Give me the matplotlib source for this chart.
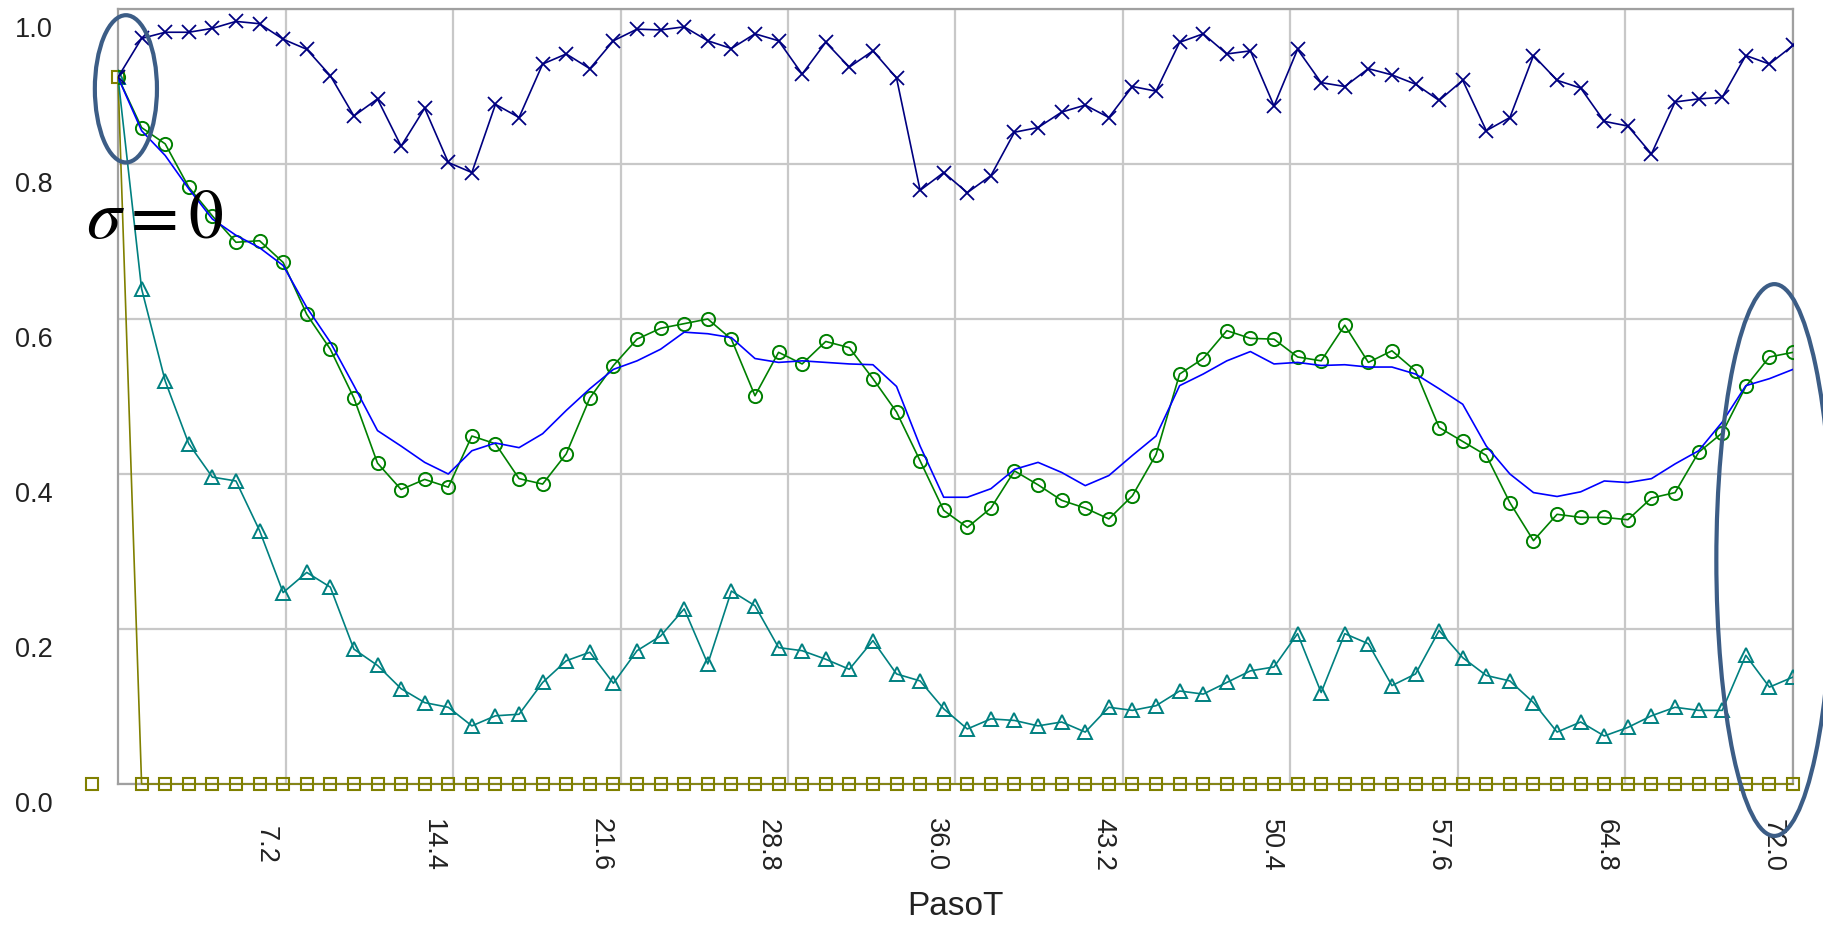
import numpy as np
import matplotlib
matplotlib.use("Agg")
import matplotlib.pyplot as plt
import matplotlib.transforms as mtransforms
from matplotlib.patches import Ellipse

plt.rcParams["font.family"] = ["Liberation Sans", "DejaVu Sans"]
plt.rcParams["mathtext.fontset"] = "stix"

# 72 time steps spread over the PasoT range 0..72
paso = np.linspace(0, 72, 72)

navy_x = [0.912, 0.962, 0.970, 0.970, 0.975, 0.984, 0.981, 0.961, 0.948, 0.914,
          0.862, 0.884, 0.823, 0.872, 0.802, 0.789, 0.877, 0.860, 0.929, 0.942,
          0.923, 0.959, 0.974, 0.973, 0.977, 0.959, 0.949, 0.968, 0.959, 0.916,
          0.957, 0.925, 0.946, 0.911, 0.766, 0.789, 0.763, 0.785, 0.841, 0.847,
          0.867, 0.876, 0.860, 0.900, 0.894, 0.957, 0.968, 0.942, 0.946, 0.875,
          0.948, 0.905, 0.900, 0.923, 0.915, 0.903, 0.882, 0.908, 0.843, 0.860,
          0.940, 0.908, 0.898, 0.855, 0.849, 0.813, 0.880, 0.884, 0.886, 0.940,
          0.929, 0.953]

green_o = [0.912, 0.847, 0.826, 0.770, 0.733, 0.699, 0.701, 0.673, 0.606, 0.561,
           0.498, 0.414, 0.380, 0.393, 0.383, 0.449, 0.439, 0.394, 0.387, 0.426,
           0.498, 0.540, 0.574, 0.588, 0.594, 0.600, 0.574, 0.501, 0.557, 0.542,
           0.571, 0.563, 0.523, 0.480, 0.417, 0.353, 0.331, 0.356, 0.404, 0.386,
           0.366, 0.356, 0.342, 0.372, 0.425, 0.529, 0.549, 0.585, 0.575, 0.574,
           0.551, 0.546, 0.592, 0.544, 0.559, 0.533, 0.460, 0.442, 0.424, 0.363,
           0.314, 0.348, 0.344, 0.344, 0.341, 0.369, 0.376, 0.428, 0.453, 0.513,
           0.551, 0.557]

blue_line = [0.912, 0.843, 0.811, 0.768, 0.729, 0.708, 0.692, 0.669, 0.615, 0.570,
             0.514, 0.456, 0.436, 0.415, 0.400, 0.430, 0.440, 0.434, 0.452, 0.482,
             0.510, 0.535, 0.546, 0.561, 0.583, 0.581, 0.576, 0.549, 0.544, 0.546,
             0.544, 0.542, 0.541, 0.513, 0.436, 0.370, 0.370, 0.381, 0.406, 0.415,
             0.402, 0.385, 0.398, 0.424, 0.449, 0.514, 0.529, 0.546, 0.558, 0.542,
             0.544, 0.540, 0.541, 0.538, 0.538, 0.529, 0.510, 0.490, 0.436, 0.400,
             0.376, 0.371, 0.377, 0.391, 0.389, 0.394, 0.413, 0.430, 0.467, 0.514,
             0.523, 0.535]

teal_tri = [0.912, 0.639, 0.520, 0.439, 0.396, 0.391, 0.327, 0.247, 0.273, 0.254,
            0.174, 0.153, 0.123, 0.105, 0.099, 0.075, 0.088, 0.090, 0.131, 0.159,
            0.170, 0.130, 0.172, 0.191, 0.226, 0.155, 0.249, 0.230, 0.176, 0.172,
            0.161, 0.148, 0.185, 0.142, 0.133, 0.097, 0.071, 0.084, 0.082, 0.075,
            0.080, 0.067, 0.099, 0.095, 0.101, 0.120, 0.116, 0.131, 0.146, 0.151,
            0.194, 0.118, 0.194, 0.181, 0.127, 0.142, 0.198, 0.163, 0.140, 0.133,
            0.105, 0.067, 0.080, 0.062, 0.073, 0.088, 0.099, 0.095, 0.095, 0.166,
            0.125, 0.138]

olive_sq = [0.912] + [0.0] * 71
# stray square the original software drew left of the axis
olive_extra_x = [-1.1]
olive_extra_y = [0.0]

x_ticks = [7.2, 14.4, 21.6, 28.8, 36.0, 43.2, 50.4, 57.6, 64.8, 72.0]
y_ticks = [0.0, 0.2, 0.4, 0.6, 0.8, 1.0]

fig = plt.figure(figsize=(18.24, 9.29), dpi=100)
ax = fig.add_axes([118 / 1824, 1 - 785 / 929, 1675 / 1824, 775 / 929])

lw = 1.2
ax.plot(paso, olive_sq, color="#808000", lw=lw, marker="s", ms=9,
        mfc="none", mew=1.5, clip_on=False, zorder=3)
ax.plot(olive_extra_x, olive_extra_y, ls="none", color="#808000", marker="s",
        ms=9, mfc="none", mew=1.5, clip_on=False, zorder=3)
ax.plot(paso, teal_tri, color="#008080", lw=lw, marker="^", ms=10,
        mfc="none", mew=1.4, zorder=4)
ax.plot(paso, green_o, color="#008000", lw=lw, marker="o", ms=9.5,
        mfc="none", mew=1.4, zorder=5)
ax.plot(paso, blue_line, color="#0000ff", lw=lw, zorder=6)
ax.plot(paso, navy_x, color="#000080", lw=lw, marker="x", ms=10,
        mew=1.3, zorder=7)

ax.set_xlim(0, 72)
ax.set_ylim(0, 1.0)
ax.set_xticks(x_ticks)
ax.set_xticklabels([f"{v:.1f}" for v in x_ticks])
ax.set_yticks(y_ticks)
ax.set_yticklabels([f"{v:.1f}" for v in y_ticks])
ax.grid(True, color="#c8c8c8", lw=1.6)
ax.set_axisbelow(True)
for side in ["top", "right", "left", "bottom"]:
    ax.spines[side].set_color("#a0a0a0")
    ax.spines[side].set_linewidth(1.6)

ax.tick_params(length=0, labelsize=19.5, labelcolor="#222222")
ax.tick_params(axis="x", pad=0)
ax.tick_params(axis="y", pad=47)

xoff = mtransforms.ScaledTranslation(-0.20, -0.60, fig.dpi_scale_trans)
for lab in ax.get_xticklabels():
    lab.set_rotation(270)
    lab.set_va("center")
    lab.set_ha("center")
    lab.set_transform(lab.get_transform() + xoff)
yoff = mtransforms.ScaledTranslation(0, -0.17, fig.dpi_scale_trans)
for lab in ax.get_yticklabels():
    lab.set_transform(lab.get_transform() + yoff)

ax.set_xlabel("PasoT", fontsize=24, color="#222222")
ax.xaxis.set_label_coords(0.5, -0.137)

# annotations
ring = "#3c5d86"
ax.add_patch(Ellipse((0.34, 0.897), 2.67, 0.19, fill=False, ec=ring,
                     lw=3.0, clip_on=False, zorder=10))
ax.add_patch(Ellipse((71.2, 0.289), 4.99, 0.712, fill=False, ec=ring,
                     lw=3.0, clip_on=False, zorder=10))
ax.text(-1.37, 0.706, r"$\sigma=0$", fontsize=50, color="black",
        ha="left", va="baseline", zorder=11)

fig.savefig("out.png", dpi=100)
